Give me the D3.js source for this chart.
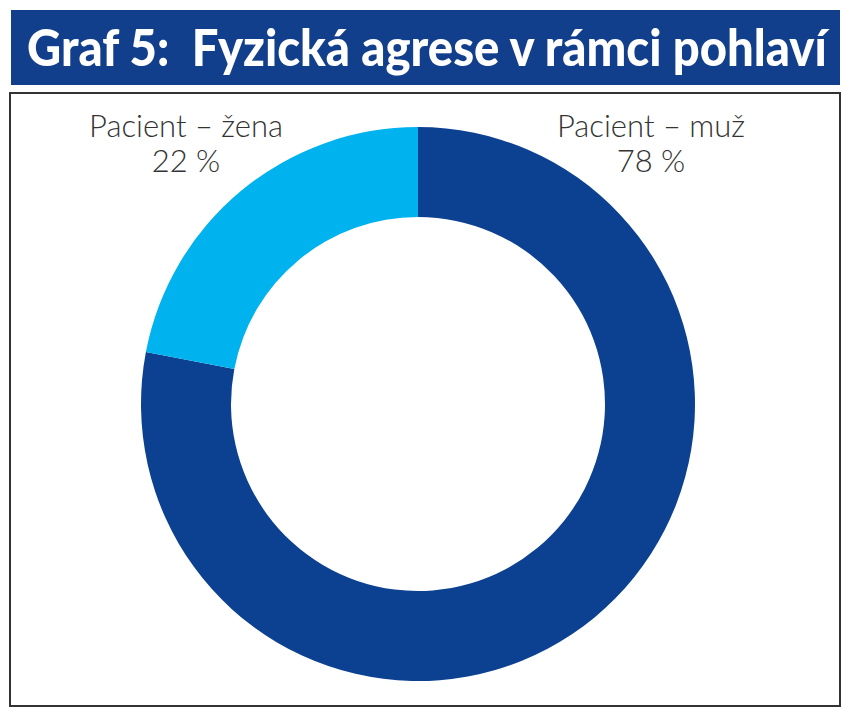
<!DOCTYPE html>
<html><head><meta charset="utf-8">
<script src="https://cdn.jsdelivr.net/npm/d3@7"></script>
<style>body{margin:0;background:#fff}svg{display:block}</style>
</head><body>
<svg id="c" width="850" height="716"></svg>
<script>
const title = "Graf 5:  Fyzická agrese v rámci pohlaví";
const categories = ["Pacient – muž", "Pacient – žena"];
const values = [78, 22];
const valueLabels = ["78 %", "22 %"];
const colors = ["#0c4191", "#00b2ee"];

const svg = d3.select("#c");
// title bar
svg.append("rect").attr("x", 11).attr("y", 10).attr("width", 829).attr("height", 75).attr("fill", "#123f8c");
const tt = svg.append("text").attr("x", 0).attr("y", 0)
  .attr("font-family", "Lato, 'Open Sans', sans-serif").attr("font-weight", 900)
  .attr("font-size", 52).attr("fill", "#fff")
  .style("white-space", "pre").text(title);
const natural = tt.node().getComputedTextLength();
const sx = Math.min(1, 800 / natural);
tt.attr("transform", `translate(27,66) scale(${sx},1)`);
// frame
svg.append("rect").attr("x", 10).attr("y", 93).attr("width", 830).attr("height", 613)
  .attr("fill", "none").attr("stroke", "#333").attr("stroke-width", 2);

const cx = 418, cy = 404, R = 277, r = 187;
const pie = d3.pie().sort(null).value(d => d)(values);
const arc = d3.arc().innerRadius(r).outerRadius(R);
const g = svg.append("g").attr("transform", `translate(${cx},${cy})`);
g.selectAll("path").data(pie).join("path").attr("d", arc).attr("fill", (d, i) => colors[i]);

const labelX = [651, 186];
categories.forEach((c, i) => {
  const t = svg.append("text").attr("text-anchor", "middle")
    .attr("font-family", "Lato, 'Open Sans', sans-serif").attr("font-weight", 300)
    .attr("font-size", 31).attr("fill", "#333");
  t.append("tspan").attr("x", labelX[i]).attr("y", 137).text(c);
  t.append("tspan").attr("x", labelX[i]).attr("y", 172).text(valueLabels[i]);
});
</script>
</body></html>
